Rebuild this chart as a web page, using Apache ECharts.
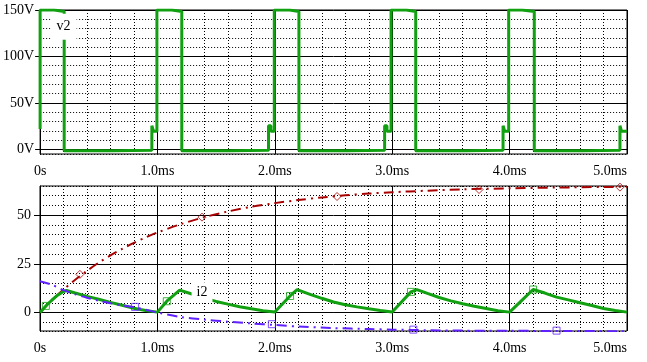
<!DOCTYPE html>
<html><head><meta charset="utf-8">
<script src="https://cdn.jsdelivr.net/npm/echarts@6/dist/echarts.min.js"></script>
<style>html,body{margin:0;padding:0;background:#fff}#c{width:647px;height:362px}</style>
</head><body><div id="c"></div>
<script>
// ---- tick labels ----
const xTickValues = [0, 1, 2, 3, 4, 5];
const xTickLabels = ['0s', '1.0ms', '2.0ms', '3.0ms', '4.0ms', '5.0ms'];
const vTickValues = [0, 50, 100, 150];
const vTickLabels = ['0V', '50V', '100V', '150V'];
const iTickValues = [0, 25, 50];
const iTickLabels = ['0', '25', '50'];

// ---- v2 (top plot), time in ms, value in V ----
const v2Time = [0,0,0.12,0.12,0.205,0.205,0.62,0.62,0.952,0.952,0.966,0.966,0.995,0.995,1.122,1.122,1.207,1.207,1.62,1.62,1.946,1.946,1.966,1.966,1.995,1.995,2.125,2.125,2.205,2.205,2.62,2.62,2.935,2.935,2.955,2.955,2.99,2.99,3.12,3.12,3.2,3.2,3.62,3.62,3.944,3.944,3.958,3.958,3.992,3.992,4.106,4.106,4.21,4.21,4.62,4.62,4.94,4.94,4.953,4.953,5.0];
const v2Value = [22,150,150,148.5,148.5,-1.6,-1.6,-1.0,-1.0,25.5,25.5,19.6,19.6,150,150,148.5,148.5,-1.6,-1.6,-1.0,-1.0,25.5,25.5,19.6,19.6,150,150,148.5,148.5,-1.6,-1.6,-1.0,-1.0,25.5,25.5,19.6,19.6,150,150,148.5,148.5,-1.6,-1.6,-1.0,-1.0,25.5,25.5,19.6,19.6,150,150,148.5,148.5,-1.6,-1.6,-1.0,-1.0,25.5,25.5,19.6,19.6];

// ---- i2 (green) ----
const i2Time = [0,0.05,0.1,0.15,0.2,0.225,0.3,0.4,0.5,0.6,0.7,0.8,0.9,1.0,1.08,1.19,1.3,1.4,1.5,1.6,1.7,1.8,1.9,2.0,2.13,2.19,2.3,2.4,2.5,2.6,2.7,2.8,2.9,3.0,3.16,3.21,3.3,3.4,3.5,3.6,3.7,3.8,3.9,4.0,4.1,4.2,4.3,4.4,4.5,4.6,4.7,4.8,4.9,5.0];
const i2Value = [0,3.4,6.3,8.9,10.8,11.3,10.0,8.3,6.8,5.2,3.7,2.2,1.0,0.2,5.8,11.5,9.4,7.4,5.7,4.3,3.0,1.9,0.9,0.3,8.5,11.8,9.3,7.3,5.4,4.0,2.9,1.9,1.0,0.3,10.6,11.8,9.8,7.7,6.0,4.5,3.2,2.1,0.9,0.2,6.0,11.8,10.0,7.9,6.5,5.0,3.6,2.1,1.0,0.2];

// ---- red dash-dot trace ----
const redTime = [0,0.1,0.2,0.3,0.4,0.5,0.6,0.7,0.8,0.9,1.0,1.2,1.4,1.6,1.8,2.0,2.2,2.4,2.6,2.8,3.0,3.3,3.6,4.0,4.4,4.8,5.0];
const redValue = [0,6.2,11.8,16.8,21.4,25.6,29.3,32.7,35.8,38.6,41.1,45.4,49.0,51.9,54.3,56.2,57.8,59.1,60.2,61.1,61.8,62.6,63.3,63.8,64.2,64.5,64.6];

// ---- blue dash-dot trace ----
const blueTime = [0,0.1,0.2,0.3,0.4,0.5,0.6,0.7,0.8,0.9,1.0,1.2,1.4,1.6,1.8,2.0,2.2,2.5,2.8,3.0,3.3,3.6,4.0,4.5,5.0];
const blueValue = [16.1,14.3,11.5,9.4,7.6,6.1,4.8,3.6,2.7,1.4,0.0,-2.3,-3.6,-4.7,-5.6,-6.4,-7.2,-8.0,-8.5,-8.8,-9.1,-9.3,-9.4,-9.5,-9.6];

// ---- trace markers ----
const greenMarkTime = [0.05, 1.08, 2.13, 3.16, 4.2];
const greenMarkValue = [3.4, 5.8, 8.5, 10.6, 11.8];
const redMarkTime = [0.34, 1.38, 2.53, 3.74, 4.94];
const redMarkValue = [19.6, 49.0, 59.6, 63.2, 64.4];
const blueMarkTime = [0.81, 1.975, 3.18, 4.4];
const blueMarkValue = [2.9, -6.0, -8.8, -9.3];

const zip = (a, b) => a.map((t, i) => [t, b[i]]);
const FONT = 'Liberation Serif';
const GREEN = '#10a010', RED = '#a80000', BLUE = '#6020ff';
const dotted = { color: '#000', width: 1, type: [1, 2] };
const solid = { color: '#000', width: 1 };

function xAxisFor(gridIndex, margin) {
  return {
    type: 'value', gridIndex, min: 0, max: 5, interval: 1,
    axisLine: { show: true, lineStyle: solid },
    axisTick: { show: true, length: 5, inside: false, lineStyle: solid },
    axisLabel: { margin, color: '#000', fontFamily: FONT, fontSize: 14, alignMaxLabel: 'right',
      formatter: v => { const k = xTickValues.indexOf(v); return k >= 0 ? xTickLabels[k] : ''; } },
    splitLine: { show: true, lineStyle: solid },
    minorTick: { show: false, splitNumber: 5 },
    minorSplitLine: { show: true, lineStyle: dotted }
  };
}

const option = {
  animation: false,
  backgroundColor: '#fff',
  grid: [
    { left: 40, right: 20, top: 10, height: 144, show: true, borderColor: '#000', borderWidth: 1, backgroundColor: 'transparent' },
    { left: 40, right: 20, top: 186, height: 145, show: true, borderColor: '#000', borderWidth: 1, backgroundColor: 'transparent' }
  ],
  xAxis: [xAxisFor(0, 10), xAxisFor(1, 10)],
  yAxis: [
    { type: 'value', gridIndex: 0, min: -5, max: 150, splitNumber: 15,
      axisLine: { show: false }, axisTick: { show: false }, axisLabel: { show: false },
      splitLine: { show: true, lineStyle: dotted } },
    { type: 'value', gridIndex: 0, min: -5, max: 150, position: 'left',
      axisLine: { show: true, lineStyle: solid },
      axisTick: { show: true, length: 5, lineStyle: solid, customValues: vTickValues },
      axisLabel: { margin: 6, color: '#000', fontFamily: FONT, fontSize: 14, customValues: vTickValues,
        formatter: v => { const k = vTickValues.indexOf(v); return k >= 0 ? vTickLabels[k] : ''; } },
      splitLine: { show: true, lineStyle: solid } },
    { type: 'value', gridIndex: 1, min: -9.5, max: 65, splitNumber: 15,
      axisLine: { show: false }, axisTick: { show: false }, axisLabel: { show: false },
      splitLine: { show: true, lineStyle: dotted } },
    { type: 'value', gridIndex: 1, min: -9.5, max: 65, position: 'left',
      axisLine: { show: true, lineStyle: solid },
      axisTick: { show: true, length: 6, lineStyle: solid, customValues: iTickValues },
      axisLabel: { margin: 9, color: '#000', fontFamily: FONT, fontSize: 14, customValues: iTickValues,
        formatter: v => { const k = iTickValues.indexOf(v); return k >= 0 ? iTickLabels[k] : ''; } },
      splitLine: { show: true, lineStyle: solid } }
  ],
  series: [
    { name: 'v2', type: 'line', xAxisIndex: 0, yAxisIndex: 0, data: zip(v2Time, v2Value),
      showSymbol: false, lineStyle: { color: GREEN, width: 3, join: 'bevel' }, itemStyle: { color: GREEN }, z: 3,
      markPoint: { symbol: 'rect', symbolSize: 0, z: 10, silent: true,
        label: { show: true, position: 'inside', formatter: 'v2', color: '#000', fontFamily: FONT, fontSize: 14,
          backgroundColor: '#fff', padding: [6, 6] },
        data: [{ coord: [0.2, 132] }] } },
    { name: 'red', type: 'line', xAxisIndex: 1, yAxisIndex: 2, data: zip(redTime, redValue), smooth: 0.3,
      showSymbol: false, lineStyle: { color: RED, width: 2, type: [10, 5, 2, 5] }, z: 3 },
    { name: 'blue', type: 'line', xAxisIndex: 1, yAxisIndex: 2, data: zip(blueTime, blueValue), smooth: 0.3,
      showSymbol: false, lineStyle: { color: BLUE, width: 2, type: [10, 5, 2, 5] }, z: 4 },
    { name: 'i2', type: 'line', xAxisIndex: 1, yAxisIndex: 2, data: zip(i2Time, i2Value),
      showSymbol: false, lineStyle: { color: GREEN, width: 3 }, z: 3,
      markPoint: { symbol: 'rect', symbolSize: 0, z: 10, silent: true,
        label: { show: true, position: 'inside', formatter: 'i2', color: '#000', fontFamily: FONT, fontSize: 14,
          backgroundColor: '#fff', padding: [3, 5] },
        data: [{ coord: [1.38, 10.4] }] } },
    { type: 'scatter', xAxisIndex: 1, yAxisIndex: 2, data: zip(greenMarkTime, greenMarkValue), symbol: 'rect', symbolSize: 7,
      itemStyle: { color: 'rgba(0,0,0,0)', borderColor: GREEN, borderWidth: 1 }, z: 6, silent: true },
    { type: 'scatter', xAxisIndex: 1, yAxisIndex: 2, data: zip(redMarkTime, redMarkValue), symbol: 'diamond', symbolSize: 8,
      itemStyle: { color: 'rgba(0,0,0,0)', borderColor: RED, borderWidth: 1 }, z: 6, silent: true },
    { type: 'scatter', xAxisIndex: 1, yAxisIndex: 2, data: zip(blueMarkTime, blueMarkValue), symbol: 'rect', symbolSize: 7,
      itemStyle: { color: 'rgba(0,0,0,0)', borderColor: BLUE, borderWidth: 1 }, z: 6, silent: true }
  ]
};
const chart = echarts.init(document.getElementById('c'), null, { renderer: 'canvas' });
chart.setOption(option);
</script></body></html>
